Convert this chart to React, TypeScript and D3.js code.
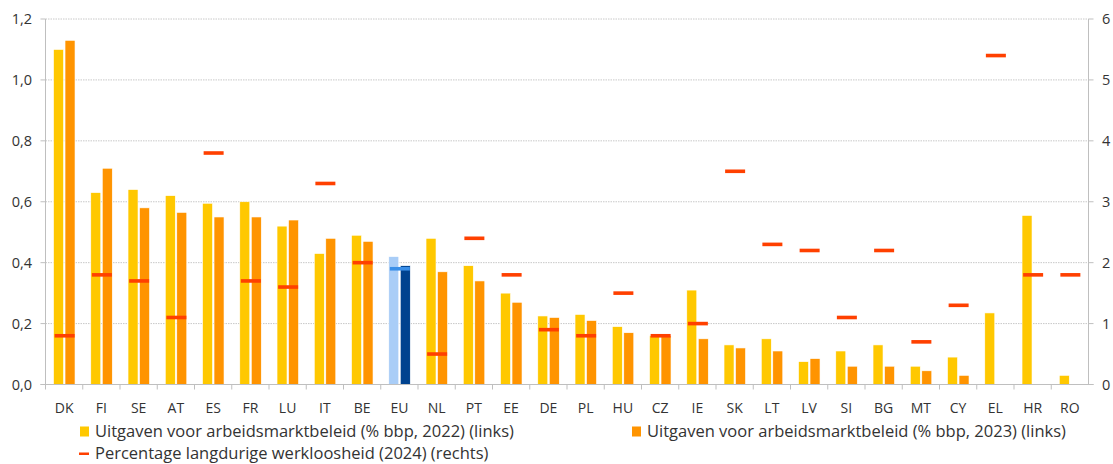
import React from "react";
import * as d3 from "d3";

const categories = ["DK","FI","SE","AT","ES","FR","LU","IT","BE","EU","NL","PT","EE","DE","PL","HU","CZ","IE","SK","LT","LV","SI","BG","MT","CY","EL","HR","RO"];
const spend2022 = [1.10,0.63,0.64,0.62,0.595,0.60,0.52,0.43,0.49,0.42,0.48,0.39,0.30,0.225,0.23,0.19,0.16,0.31,0.13,0.15,0.075,0.11,0.13,0.06,0.09,0.235,0.555,0.03];
const spend2023: (number | null)[] = [1.13,0.71,0.58,0.565,0.55,0.55,0.54,0.48,0.47,0.39,0.37,0.34,0.27,0.22,0.21,0.17,0.16,0.15,0.12,0.11,0.085,0.06,0.06,0.045,0.03,null,null,null];
const longTermUnemp = [0.8,1.8,1.7,1.1,3.8,1.7,1.6,3.3,2.0,1.9,0.5,2.4,1.8,0.9,0.8,1.5,0.8,1.0,3.5,2.3,2.2,1.1,2.2,0.7,1.3,5.4,1.8,1.8];
const leftTicks = [0,0.2,0.4,0.6,0.8,1.0,1.2];
const rightTicks = [0,1,2,3,4,5,6];
const legendLabels = [
  "Uitgaven voor arbeidsmarktbeleid (% bbp, 2022) (links)",
  "Uitgaven voor arbeidsmarktbeleid (% bbp, 2023) (links)",
  "Percentage langdurige werkloosheid (2024) (rechts)",
];

const W = 1113, H = 464;
const left = 45.5, right = 1088.5, top = 19, bottom = 384.5;
const C22 = "#ffc800", C23 = "#ff9400", CRED = "#ff4000";
const EU22 = "#a9cdf7", EU23 = "#00428f", EUMARK = "#3a8fe8";
const FONT = "'Open Sans', Lato, sans-serif";
const TXT = "#333333";

export default function App() {
  const x = d3.scaleBand<string>().domain(categories).range([left, right]).padding(0);
  const yL = d3.scaleLinear().domain([0, 1.2]).range([bottom, top]);
  const yR = d3.scaleLinear().domain([0, 6]).range([bottom, top]);
  const bw = 10;
  const fmtL = (v: number) => d3.format(".1f")(v).replace(".", ",");

  return (
    <svg width={W} height={H} style={{ position: "absolute", left: 0, top: 0, background: "#fff" }} fontFamily={FONT}>
      {leftTicks.slice(1).map((t) => (
        <line key={"g" + t} x1={left} x2={right} y1={yL(t)} y2={yL(t)} stroke="#c8c8c8" strokeWidth={1} strokeDasharray="1.5,1" />
      ))}
      {categories.map((c, i) => {
        const cx = x(c)! + x.bandwidth() / 2;
        const isEU = c === "EU";
        const v2 = spend2023[i];
        return (
          <g key={c}>
            <rect x={cx - bw - 0.6} y={yL(spend2022[i])} width={bw} height={bottom - yL(spend2022[i])} fill={isEU ? EU22 : C22} stroke="#fff" strokeWidth={0.6} />
            {v2 != null && (
              <rect x={cx + 0.9} y={yL(v2)} width={bw} height={bottom - yL(v2)} fill={isEU ? EU23 : C23} stroke="#fff" strokeWidth={0.6} />
            )}
          </g>
        );
      })}
      {categories.map((c, i) => {
        const cx = x(c)! + x.bandwidth() / 2;
        return (
          <rect key={"m" + c} x={cx - 9.5} y={yR(longTermUnemp[i]) - 1.8} width={20} height={3.6} fill={c === "EU" ? EUMARK : CRED} />
        );
      })}
      <line x1={left} x2={left} y1={top} y2={bottom} stroke="#bfbfbf" />
      <line x1={right} x2={right} y1={top} y2={bottom} stroke="#bfbfbf" />
      <line x1={left - 5} x2={right + 5} y1={bottom} y2={bottom} stroke="#bfbfbf" />
      {leftTicks.map((t) => (
        <g key={"lt" + t}>
          <line x1={left - 5} x2={left} y1={yL(t)} y2={yL(t)} stroke="#bfbfbf" />
          <text x={32} y={yL(t)} dy="0.35em" textAnchor="end" fontSize={14.5} fill={TXT}>{fmtL(t)}</text>
        </g>
      ))}
      {rightTicks.map((t) => (
        <g key={"rt" + t}>
          <line x1={right} x2={right + 5} y1={yR(t)} y2={yR(t)} stroke="#bfbfbf" />
          <text x={1102} y={yR(t)} dy="0.35em" textAnchor="start" fontSize={14.5} fill={TXT}>{t}</text>
        </g>
      ))}
      {categories.map((c) => (
        <line key={"s" + c} x1={x(c)!} x2={x(c)!} y1={bottom} y2={bottom + 5} stroke="#bfbfbf" />
      ))}
      {categories.map((c) => (
        <text key={"cl" + c} x={x(c)! + x.bandwidth() / 2} y={408} dy="0.35em" textAnchor="middle" fontSize={14} fill={TXT}>{c}</text>
      ))}
      <rect x={80} y={426.5} width={9} height={10} fill={C22} />
      <text x={95} y={431} dy="0.35em" fontSize={16.5} fill={TXT}>{legendLabels[0]}</text>
      <rect x={632} y={426.5} width={9} height={10} fill={C23} />
      <text x={647} y={431} dy="0.35em" fontSize={16.5} fill={TXT}>{legendLabels[1]}</text>
      <rect x={79} y={452.5} width={10} height={2.5} fill={CRED} />
      <text x={95} y={453} dy="0.35em" fontSize={16.5} fill={TXT}>{legendLabels[2]}</text>
    </svg>
  );
}
